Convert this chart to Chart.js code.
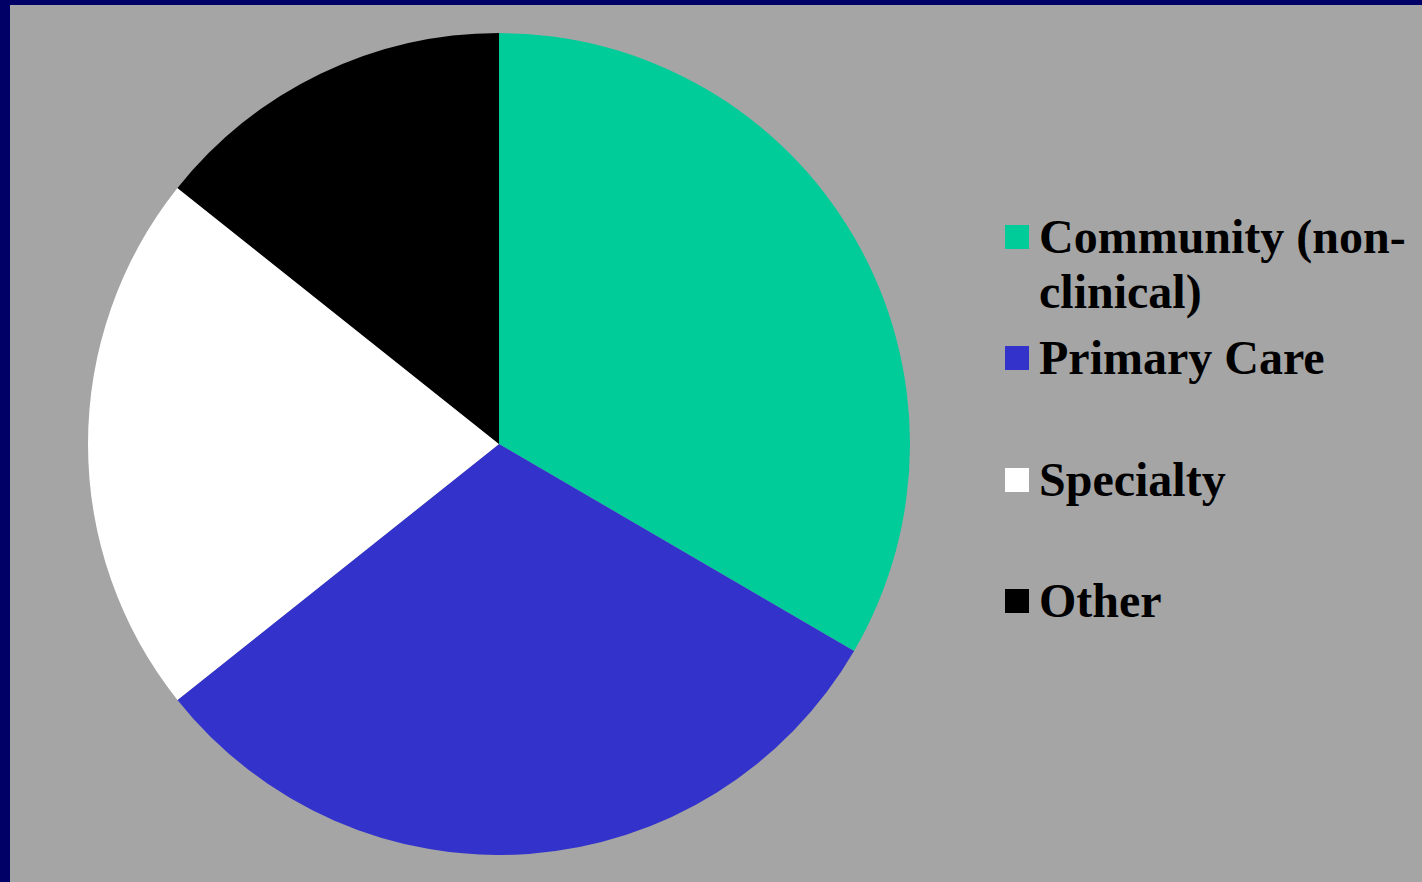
<!DOCTYPE html>
<html>
<head>
<meta charset="utf-8">
<script src="https://cdn.jsdelivr.net/npm/chart.js@4/dist/chart.umd.min.js"></script>
<style>
  html, body { margin: 0; padding: 0; }
  body { width: 1422px; height: 882px; background: #000066; position: relative; overflow: hidden; }
  #panel { position: absolute; left: 10px; top: 5px; right: 0; bottom: 0; background: #a5a5a5; }
  #chartBox { position: absolute; left: 88px; top: 33px; width: 822px; height: 822px; }
  #legend { position: absolute; left: 0; top: 0; }
  .item { position: absolute; left: 1005px; white-space: nowrap;
          font-family: "Liberation Serif", "Times New Roman", serif; font-weight: bold;
          font-size: 48px; line-height: 55px; color: #000; }
  .box { position: absolute; left: 0; top: 16px; width: 24px; height: 24px; }
  .txt { position: absolute; left: 34px; top: 0; }
</style>
</head>
<body>
<div id="panel"></div>
<div id="chartBox"><canvas id="c"></canvas></div>
<div id="legend"></div>
<script>
const categories = [["Community (non-", "clinical)"], "Primary Care", "Specialty", "Other"];
const shares = [33.4, 30.9, 21.4, 14.3];
const sliceColors = ["#00cc99", "#3333cc", "#ffffff", "#000000"];

new Chart(document.getElementById('c'), {
  type: 'pie',
  data: {
    labels: categories,
    datasets: [{
      data: shares,
      backgroundColor: sliceColors,
      borderWidth: 0,
      hoverOffset: 0,
      offset: 0
    }]
  },
  options: {
    responsive: true,
    maintainAspectRatio: false,
    animation: false,
    layout: { padding: 0 },
    plugins: { legend: { display: false }, tooltip: { enabled: false } },
    events: []
  }
});

const legend = document.getElementById('legend');
categories.forEach((lab, i) => {
  const item = document.createElement('div');
  item.className = 'item';
  item.style.top = (209 + i * 121.3) + 'px';
  const box = document.createElement('div');
  box.className = 'box';
  box.style.background = sliceColors[i];
  const txt = document.createElement('div');
  txt.className = 'txt';
  const lines = Array.isArray(lab) ? lab : [lab];
  lines.forEach((ln, j) => {
    if (j) txt.appendChild(document.createElement('br'));
    txt.appendChild(document.createTextNode(ln));
  });
  item.appendChild(box);
  item.appendChild(txt);
  legend.appendChild(item);
});
</script>
</body>
</html>
